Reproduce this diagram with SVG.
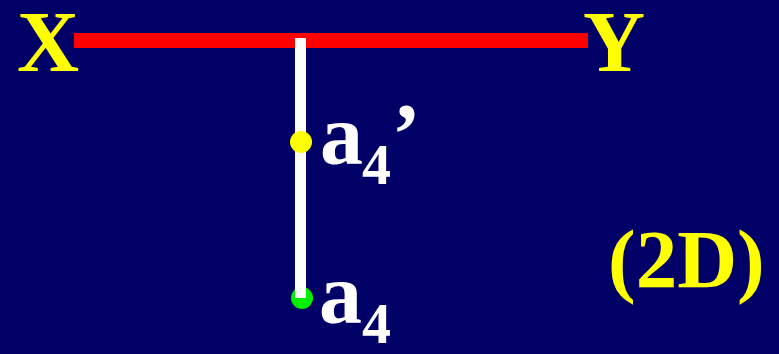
<svg xmlns="http://www.w3.org/2000/svg" width="779" height="354" viewBox="0 0 779 354">
<style>
text{font-family:"Liberation Serif","Times New Roman",serif;font-weight:bold}
.yl{fill:#ffff00;font-size:86px}
.wt{fill:#ffffff;font-size:86px}
.sub{fill:#ffffff;font-size:58px}
</style>
<rect width="779" height="354" fill="#000066"/>
<g id="connectors">
<rect x="74" y="33" width="514" height="15" fill="#ff0000"/>
</g>
<g id="a4">
<circle cx="302" cy="298" r="11" fill="#00ee00"/>
<text class="wt" x="319" y="323">a</text>
<text class="sub" x="362" y="343">4</text>
</g>
<g id="projector">
<rect x="295" y="38" width="11" height="260" fill="#ffffff"/>
</g>
<g id="a4p">
<circle cx="301" cy="142" r="11" fill="#ffff00"/>
<text class="wt" x="320" y="164">a</text>
<text class="sub" x="362" y="184">4</text>
<text class="wt" x="392" y="163">’</text>
</g>
<g id="X"><text class="yl" x="17" y="71">X</text></g>
<g id="Y"><text class="yl" x="583" y="71">Y</text></g>
<g id="label2D"><text class="yl" x="608" y="287" style="font-size:83px">(2D)</text></g>
</svg>
